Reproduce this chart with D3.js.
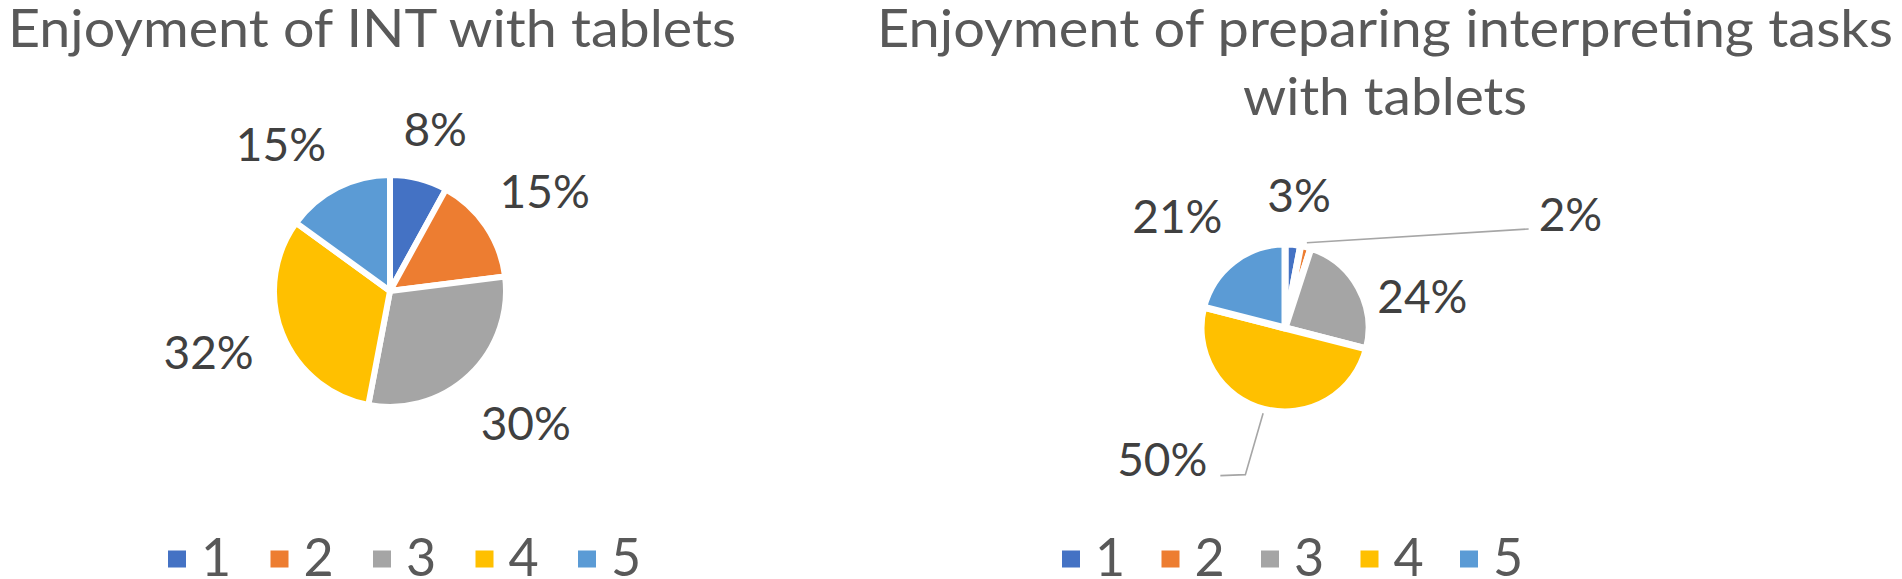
<!DOCTYPE html>
<html>
<head>
<meta charset="utf-8">
<script src="https://cdn.jsdelivr.net/npm/d3@7"></script>
<style>
  html, body { margin: 0; padding: 0; background: #ffffff; }
  svg { display: block; }
  text { font-family: Lato, "Open Sans", sans-serif; }
</style>
</head>
<body>
<svg id="chart" width="1902" height="579"></svg>
<script>
// ---- data ----
const categories = ["1", "2", "3", "4", "5"];
const sliceColors = ["#4472C4", "#ED7D31", "#A5A5A5", "#FFC000", "#5B9BD5"];
const valuesINT = [8, 15, 30, 32, 15];
const valuesPrep = [3, 2, 24, 50, 21];
const titleINT = ["Enjoyment of INT with tablets"];
const titlePrep = ["Enjoyment of preparing interpreting tasks", "with tablets"];

// ---- layout config (label placement in polar terms around the pie centre) ----
const charts = [
  { values: valuesINT, title: titleINT, cx: 390, cy: 291, r: 116, stroke: 6,
    titleX: 372, titleWidths: [728], legendX: 168, legendStep: 102.5,
    labelGap: 34,
    overrides: {
      1: { angle: 57.2, dist: 184 },
      2: { angle: 134.4, dist: 190 },
      4: { angle: 323.4, dist: 183 }
    } },
  { values: valuesPrep, title: titlePrep, cx: 1285, cy: 328, r: 84, stroke: 7,
    titleX: 1385, titleWidths: [1016, 284], legendX: 1062, legendStep: 99.5,
    labelGap: 33,
    overrides: {
      1: { angle: 68.4, dist: 307, leader: true },
      2: { angle: 76.9, dist: 141 },
      3: { angle: 223, dist: 180, leader: true },
      4: { angle: 316, dist: 155 }
    } }
];

const svg = d3.select("#chart");
const titleColor = "#595959", labelColor = "#404040";
const titleSize = 52, labelSize = 46, legendSize = 52;
const labelCap = labelSize * 0.7165;

charts.forEach(cfg => {
  const g = svg.append("g");

  // title
  cfg.title.forEach((line, i) => {
    g.append("text")
      .attr("x", cfg.titleX)
      .attr("y", 47 + i * 68)
      .attr("text-anchor", "middle")
      .attr("font-size", titleSize)
      .attr("fill", titleColor)
      .attr("textLength", cfg.titleWidths[i])
      .attr("lengthAdjust", "spacingAndGlyphs")
      .text(line);
  });

  // pie
  const pie = d3.pie().sort(null).value(d => d);
  const arcs = pie(cfg.values);
  const arc = d3.arc().innerRadius(0).outerRadius(cfg.r);
  const pg = g.append("g").attr("transform", `translate(${cfg.cx},${cfg.cy})`);
  pg.selectAll("path.slice")
    .data(arcs)
    .join("path")
    .attr("class", "slice")
    .attr("d", arc)
    .attr("fill", (d, i) => sliceColors[i])
    .attr("stroke", "#ffffff")
    .attr("stroke-width", cfg.stroke)
    .attr("stroke-linejoin", "round");

  // labels
  arcs.forEach((d, i) => {
    const mid = (d.startAngle + d.endAngle) / 2;
    const txt = d.data + "%";
    const t = pg.append("text")
      .attr("text-anchor", "middle")
      .attr("font-size", labelSize)
      .attr("fill", labelColor)
      .text(txt);
    const w = t.node().getComputedTextLength();
    let lx, ly;
    const ov = cfg.overrides[i];
    if (ov) {
      const a = ov.angle * Math.PI / 180;
      lx = Math.sin(a) * ov.dist;
      ly = -Math.cos(a) * ov.dist;
    } else {
      const R0 = cfg.r + cfg.labelGap;
      lx = Math.sin(mid) * (R0 + w / 2);
      ly = -Math.cos(mid) * (R0 + labelCap / 2);
    }
    t.attr("x", lx).attr("y", ly + labelCap / 2);

    if (ov && ov.leader) {
      const sx = Math.sin(mid) * (cfg.r + 4);
      const sy = -Math.cos(mid) * (cfg.r + 4);
      const right = lx > sx;
      const ax = right ? lx - w / 2 - 10 : lx + w / 2 + 13;
      const ay = ly + (right ? 14 : 16);
      const pts = [[sx, sy]];
      if (Math.abs(ay - sy) > Math.abs(ax - sx)) {
        pts.push([ax + (right ? -25 : 25), ay - 1]);
      }
      pts.push([ax, ay]);
      pg.append("path")
        .attr("d", d3.line()(pts))
        .attr("fill", "none")
        .attr("stroke", "#A6A6A6")
        .attr("stroke-width", 1.6);
    }
  });

  // legend
  const lg = g.append("g");
  categories.forEach((c, i) => {
    const x0 = cfg.legendX + i * cfg.legendStep;
    lg.append("rect")
      .attr("x", x0).attr("y", 550.5)
      .attr("width", 18).attr("height", 17)
      .attr("fill", sliceColors[i]);
    lg.append("text")
      .attr("x", x0 + 33).attr("y", 576)
      .attr("font-size", legendSize)
      .attr("fill", titleColor)
      .text(c);
  });
});
</script>
</body>
</html>
